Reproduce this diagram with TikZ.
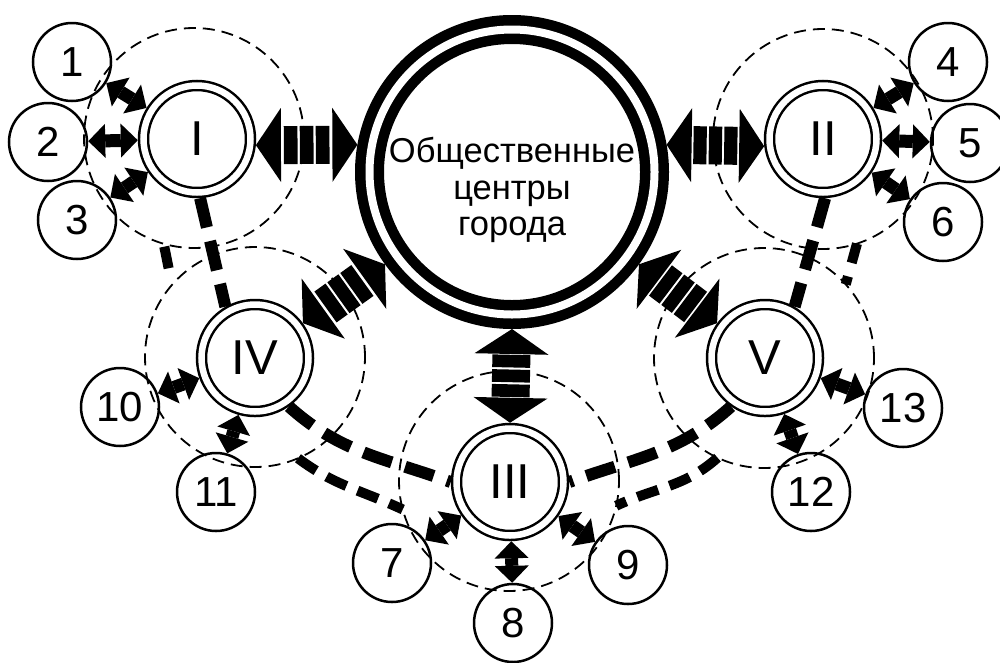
\documentclass[tikz,border=0pt]{standalone}
\usepackage{fontspec}
\setmainfont{Liberation Sans}
\usetikzlibrary{calc,arrows.meta}
\tikzset{
 zone/.style={circle, draw, line width=1.8pt, dash pattern=on 12pt off 7pt, minimum size=220pt, inner sep=0pt, outer sep=0pt},
 sat/.style={circle, draw, line width=2.5pt, double, double distance=6.5pt, fill=white, minimum size=107pt, inner sep=0pt, outer sep=5.75pt, font=\fontsize{49}{49}\selectfont},
 cen/.style={circle, draw, line width=10.5pt, double, double distance=8pt, minimum size=285pt, inner sep=0pt, outer sep=14.5pt},
 num/.style={circle, draw, line width=2.5pt, minimum size=78pt, inner sep=0pt, outer sep=1.25pt, font=\fontsize{42}{42}\selectfont},
 ctext/.style={align=center, font=\fontsize{34.5}{36.5}\selectfont, inner sep=0pt},
 mainlink/.style={line width=12pt, dash pattern=on 30pt off 14pt},
 zonelink/.style={line width=10pt, dash pattern=on 22pt off 12pt},
 smallarr/.style={line width=13pt, {Triangle[length=17pt,width=34pt,line width=0pt]}-{Triangle[length=17pt,width=34pt,line width=0pt]}},
 bararr/.style={line width=38pt},
}
\newcommand\bigarrow[2]{%
  \fill (#1) -- ($(#1)!25pt!(#2)!37pt!90:(#2)$) -- ($(#1)!25pt!(#2)!37pt!-90:(#2)$) -- cycle;
  \fill (#2) -- ($(#2)!25pt!(#1)!37pt!90:(#1)$) -- ($(#2)!25pt!(#1)!37pt!-90:(#1)$) -- cycle;
  \foreach \a/\b in {0.275/0.41, 0.4325/0.5675, 0.59/0.725}
    \draw[bararr] ($(#1)!\a!(#2)$) -- ($(#1)!\b!(#2)$);
}
\begin{document}
\begin{tikzpicture}[x=1pt,y=1pt]
\useasboundingbox (0,0) rectangle (1000,-662);
% zones
\node[zone] (zI)   at (194,-138) {};
\node[zone] (zII)  at (823,-139) {};
\node[zone] (zIII) at (509,-481) {};
\node[zone] (zIV)  at (255,-357) {};
\node[zone] (zV)   at (764,-358) {};
% numbered circles
\node[num] (n1)  at (72,-62) {1};
\node[num] (n2)  at (48,-142) {2};
\node[num] (n3)  at (77,-220) {3};
\node[num] (n4)  at (948,-62) {4};
\node[num] (n5)  at (970,-143) {5};
\node[num] (n6)  at (943,-222) {6};
\node[num] (n7)  at (392,-563) {7};
\node[num] (n8)  at (513,-623) {8};
\node[num] (n9)  at (628,-565) {9};
\node[num] (n10) at (120,-407) {10};
\node[num] (n11) at (216,-492) {11};
\node[num] (n12) at (811,-492) {12};
\node[num] (n13) at (903,-408) {13};
% centre
\node[cen] (C) at (512,-172) {};
\node[ctext] (Ct) at (512,-190) {Общественные\\центры\\города};
% satellites
\node[sat] (I)   at (197,-139) {I};
\node[sat] (II)  at (823,-139) {II};
\node[sat] (III) at (510,-482) {III};
\node[sat] (IV)  at (255,-358) {IV};
\node[sat] (V)   at (765,-358) {V};
% links between satellites
\draw[mainlink] (I.-87) -- (IV.120);
\draw[mainlink] (II.-88) -- (V.60);
\draw[mainlink] (IV.-55) to[out=-42,in=160] (III.180);
\draw[mainlink] (V.235) to[out=222,in=20] (III.0);
% links between zones
\draw[zonelink] (zIV.-67) to[out=-37,in=155] (zIII.195);
\draw[zonelink] (zV.245) to[out=222,in=25] (zIII.-13);
\draw[zonelink, dash pattern=on 22pt off 20pt, dash phase=39pt] (zI.-106) -- (zIV.139);
\draw[zonelink, dash pattern=on 20pt off 14pt] (zII.-72) -- (zV.42);
% big arrows
\bigarrow{I.-6}{C.170}
\bigarrow{C.10}{II.187}
\bigarrow{C.-90}{III.90}
\bigarrow{C.216}{IV.36}
\bigarrow{C.-36}{V.144}
% small arrows
\draw[smallarr] (n1) -- (I);
\draw[smallarr] (n2) -- (I);
\draw[smallarr] (n3) -- (I);
\draw[smallarr] (n4) -- (II);
\draw[smallarr] (n5) -- (II);
\draw[smallarr] (n6) -- (II);
\draw[smallarr] (n7) -- (III);
\draw[smallarr] (n8) -- (III);
\draw[smallarr] (n9) -- (III);
\draw[smallarr] (n10) -- (IV);
\draw[smallarr] (n11) -- (IV);
\draw[smallarr] (n12) -- (V);
\draw[smallarr] (n13) -- (V);
\end{tikzpicture}
\end{document}
